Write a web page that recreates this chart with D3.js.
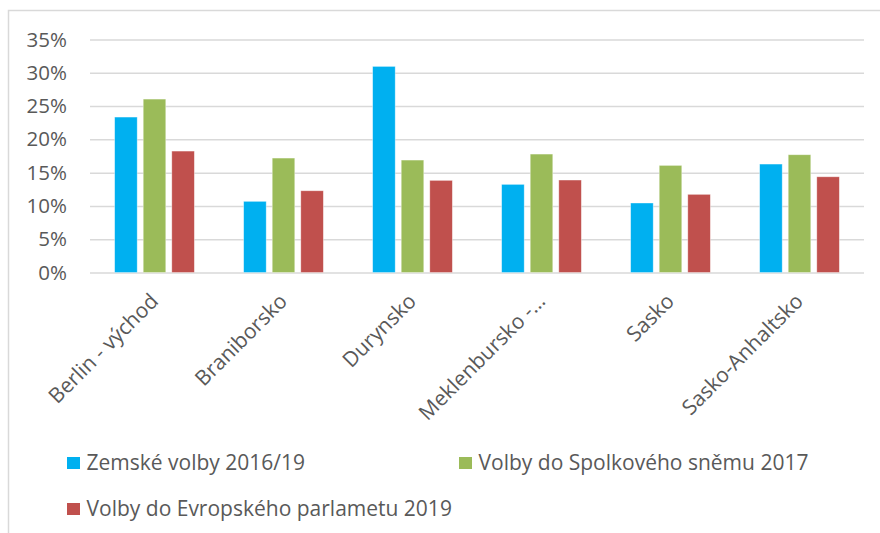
<!DOCTYPE html>
<html>
<head>
<meta charset="utf-8">
<script src="https://cdn.jsdelivr.net/npm/d3@7"></script>
<style>
  html, body { margin: 0; padding: 0; background: #fff; }
  svg text { font-family: "Open Sans", "Noto Sans", sans-serif; fill: #595959; }
</style>
</head>
<body>
<svg id="chart" width="880" height="533"></svg>
<script>
const categories = ["Berlin - východ", "Braniborsko", "Durynsko", "Meklenbursko -…", "Sasko", "Sasko-Anhaltsko"];
const seriesNames = ["Zemské volby 2016/19", "Volby do Spolkového sněmu 2017", "Volby do Evropského parlametu 2019"];
const zemske = [0.2335, 0.1069, 0.3096, 0.1324, 0.1044, 0.1629];
const spolkove = [0.2605, 0.1719, 0.1689, 0.1779, 0.1609, 0.1769];
const evropske = [0.1824, 0.1228, 0.1384, 0.1389, 0.1174, 0.1438];
const yTicks = [0, 0.05, 0.10, 0.15, 0.20, 0.25, 0.30, 0.35];
const colors = ["#00B0F0", "#9BBB59", "#C0504D"];

const series = [zemske, spolkove, evropske];
const svg = d3.select("#chart");

svg.append("rect").attr("x", 8.5).attr("y", 10.5).attr("width", 900).attr("height", 560)
  .attr("fill", "none").attr("stroke", "#d9d9d9").attr("stroke-width", 1.5);

const plotL = 90, plotR = 864, plotT = 39.5, plotB = 272.5;

const x0 = d3.scaleBand().domain(categories).range([plotL, plotR]).paddingInner(0.382).paddingOuter(0.191);
const x1 = d3.scaleBand().domain(d3.range(series.length)).range([0, x0.bandwidth()]).paddingInner(0.21);
const y = d3.scaleLinear().domain([0, 0.35]).range([plotB, plotT]);

const yAxis = d3.axisLeft(y).tickValues(yTicks).tickFormat(d3.format(".0%")).tickSize(-(plotR - plotL)).tickPadding(23);
const gy = svg.append("g").attr("transform", `translate(${plotL},0)`).call(yAxis);
gy.select(".domain").remove();
gy.selectAll(".tick line").attr("stroke", "#d9d9d9").attr("stroke-width", 1.5);
gy.selectAll(".tick text").attr("font-size", "20.5px").attr("fill", "#595959")
  .style("font-family", '"Open Sans", sans-serif');

const groups = svg.append("g").selectAll("g").data(categories).join("g")
  .attr("transform", d => `translate(${x0(d)},0)`);
groups.selectAll("rect").data((d, i) => series.map((s, k) => ({k, v: s[i]}))).join("rect")
  .attr("x", d => x1(d.k))
  .attr("width", x1.bandwidth())
  .attr("y", d => y(d.v))
  .attr("height", d => y(0) - y(d.v))
  .attr("fill", d => colors[d.k])
  .attr("stroke", "#ffffff").attr("stroke-opacity", 0.5).attr("stroke-width", 0.75);

const xAxis = d3.axisBottom(x0).tickSize(0).tickPadding(0);
const gx = svg.append("g").attr("transform", `translate(0,${plotB})`).call(xAxis);
gx.select(".domain").remove();
gx.selectAll(".tick text")
  .attr("font-size", "21px").attr("fill", "#595959")
  .style("font-family", '"Open Sans", sans-serif')
  .attr("text-anchor", "end")
  .attr("dy", null).attr("y", null)
  .attr("transform", "translate(5,30) rotate(-45)");

const legendPos = [{x: 67, y: 457}, {x: 459, y: 457}, {x: 67, y: 503}];
const lg = svg.append("g").selectAll("g").data(seriesNames).join("g")
  .attr("transform", (d, i) => `translate(${legendPos[i].x},${legendPos[i].y})`);
lg.append("rect").attr("width", 13).attr("height", 12).attr("fill", (d, i) => colors[i]);
lg.append("text").attr("x", 19.5).attr("y", 12.5).attr("font-size", "21px").text(d => d);
</script>
</body>
</html>
